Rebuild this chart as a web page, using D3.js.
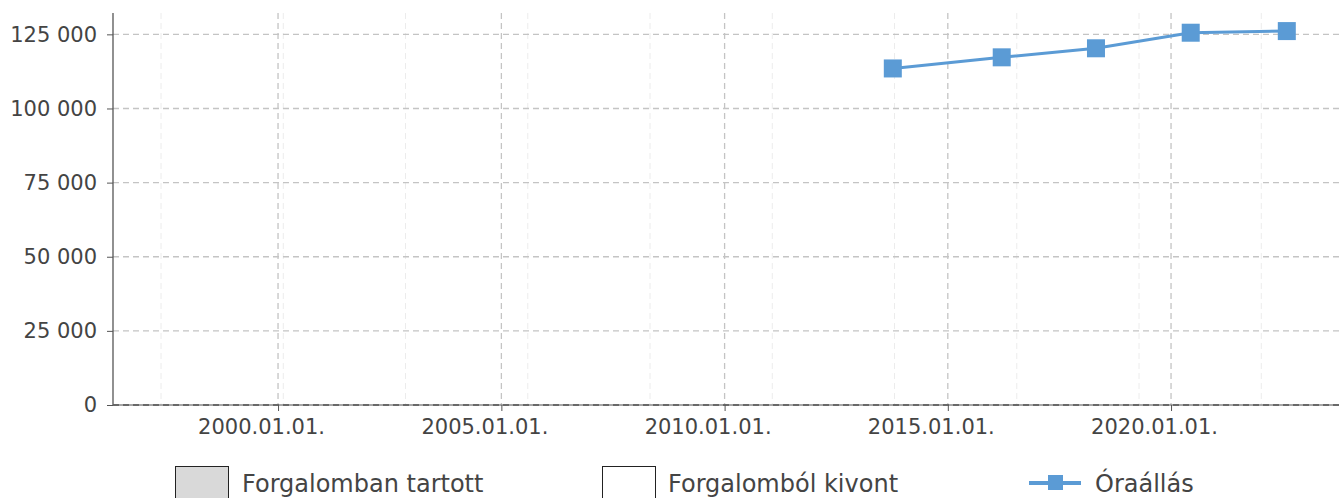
<!DOCTYPE html>
<html>
<head>
<meta charset="utf-8">
<script src="https://cdn.jsdelivr.net/npm/d3@7"></script>
<style>
  body { margin: 0; background: #fff; }
  svg { display: block; font-family: "DejaVu Sans", sans-serif; }
</style>
</head>
<body>
<svg id="chart" width="1339" height="498"></svg>
<script>
// data
var readDates = ['2013-10-08', '2016-03-17', '2018-04-27', '2020-06-10', '2022-08-05'];
var readValues = [113500, 117250, 120300, 125550, 126100];
var yTicks = [0, 25000, 50000, 75000, 100000, 125000];
var xTicks = ['2000-01-01', '2005-01-01', '2010-01-01', '2015-01-01', '2020-01-01'];
var legendItems = ['Forgalomban tartott', 'Forgalomból kivont', 'Óraállás'];

var svg = d3.select('#chart');
var plotLeft = 113, plotRight = 1339, plotTop = 13, plotBottom = 405;
var blue = '#5b9bd5';
var textColor = '#444';

var parse = d3.utcParse('%Y-%m-%d');
var x = d3.scaleUtc()
  .domain([parse('1996-04-21'), parse('2023-10-06')])
  .range([plotLeft, plotRight]);
var y = d3.scaleLinear()
  .domain([0, 132200])
  .range([plotBottom, plotTop]);

var hu = d3.formatLocale({ decimal: ',', thousands: ' ', grouping: [3], currency: ['', ''] });
var fmt = hu.format(',d');

// minor vertical grid (every 1000 days)
var minor = d3.range(10000, 19001, 1000).map(function(d) { return new Date(d * 864e5); });
svg.append('g').selectAll('line').data(minor).enter().append('line')
  .attr('x1', function(d) { return x(d); })
  .attr('x2', function(d) { return x(d); })
  .attr('y1', plotTop).attr('y2', plotBottom)
  .attr('stroke', '#ececec')
  .attr('stroke-dasharray', '6,4');

// major vertical grid
svg.append('g').selectAll('line').data(xTicks).enter().append('line')
  .attr('x1', function(d) { return x(parse(d)); })
  .attr('x2', function(d) { return x(parse(d)); })
  .attr('y1', plotTop).attr('y2', plotBottom)
  .attr('stroke', '#c4c4c4')
  .attr('stroke-width', 1.3)
  .attr('stroke-dasharray', '6,4');

// horizontal grid
svg.append('g').selectAll('line').data(yTicks.slice(1)).enter().append('line')
  .attr('x1', plotLeft).attr('x2', plotRight)
  .attr('y1', function(d) { return y(d); })
  .attr('y2', function(d) { return y(d); })
  .attr('stroke', '#c4c4c4')
  .attr('stroke-width', 1.3)
  .attr('stroke-dasharray', '6,4');

// y axis
var yAxis = svg.append('g')
  .attr('transform', 'translate(' + plotLeft + ',0)')
  .call(d3.axisLeft(y).tickValues(yTicks).tickFormat(fmt).tickSize(6).tickPadding(10));
yAxis.select('.domain').attr('d', 'M0,' + plotTop + 'V' + plotBottom).attr('stroke', '#555').attr('stroke-width', 1.3);
yAxis.selectAll('.tick line').attr('stroke', '#555');
yAxis.selectAll('.tick text')
  .attr('fill', textColor)
  .style('font-size', '21px')
  .style('font-family', '"DejaVu Sans", sans-serif');

// x axis
var xAxis = svg.append('g')
  .attr('transform', 'translate(0,' + plotBottom + ')')
  .call(d3.axisBottom(x).tickValues(xTicks.map(parse)).tickFormat(d3.utcFormat('%Y.%m.%d.')).tickSize(6).tickPadding(8));
xAxis.select('.domain').attr('d', 'M' + plotLeft + ',0H' + plotRight).attr('stroke', '#888').attr('stroke-width', 1.3);
xAxis.selectAll('.tick line').attr('stroke', '#555');
xAxis.selectAll('.tick text')
  .attr('fill', textColor)
  .attr('dx', -17)
  .style('font-size', '21px')
  .style('font-family', '"DejaVu Sans", sans-serif');
svg.append('line')
  .attr('x1', plotLeft).attr('x2', plotRight)
  .attr('y1', plotBottom).attr('y2', plotBottom)
  .attr('stroke', '#555')
  .attr('stroke-width', 1.3)
  .attr('stroke-dasharray', '6,4');

// series
var points = readDates.map(function(d, i) { return { date: parse(d), value: readValues[i] }; });
var line = d3.line()
  .x(function(d) { return x(d.date); })
  .y(function(d) { return y(d.value); });
svg.append('path')
  .datum(points)
  .attr('d', line)
  .attr('fill', 'none')
  .attr('stroke', blue)
  .attr('stroke-width', 3);
svg.append('g').selectAll('rect').data(points).enter().append('rect')
  .attr('x', function(d) { return x(d.date) - 9; })
  .attr('y', function(d) { return y(d.value) - 9; })
  .attr('width', 18).attr('height', 18)
  .attr('fill', blue);

// legend
var legend = svg.append('g');
legend.append('rect')
  .attr('x', 175.5).attr('y', 466.5).attr('width', 53).attr('height', 40)
  .attr('fill', '#d9d9d9').attr('stroke', '#222');
legend.append('rect')
  .attr('x', 602.5).attr('y', 466.5).attr('width', 53).attr('height', 40)
  .attr('fill', '#fff').attr('stroke', '#222');
legend.append('line')
  .attr('x1', 1029).attr('x2', 1081).attr('y1', 483).attr('y2', 483)
  .attr('stroke', blue).attr('stroke-width', 4);
legend.append('rect')
  .attr('x', 1048).attr('y', 475).attr('width', 15).attr('height', 15)
  .attr('fill', blue);
var legendX = [242, 668, 1095];
legend.selectAll('text').data(legendItems).enter().append('text')
  .attr('x', function(d, i) { return legendX[i]; })
  .attr('y', 492)
  .attr('fill', textColor)
  .style('font-size', '24px')
  .text(function(d) { return d; });
</script>
</body>
</html>
